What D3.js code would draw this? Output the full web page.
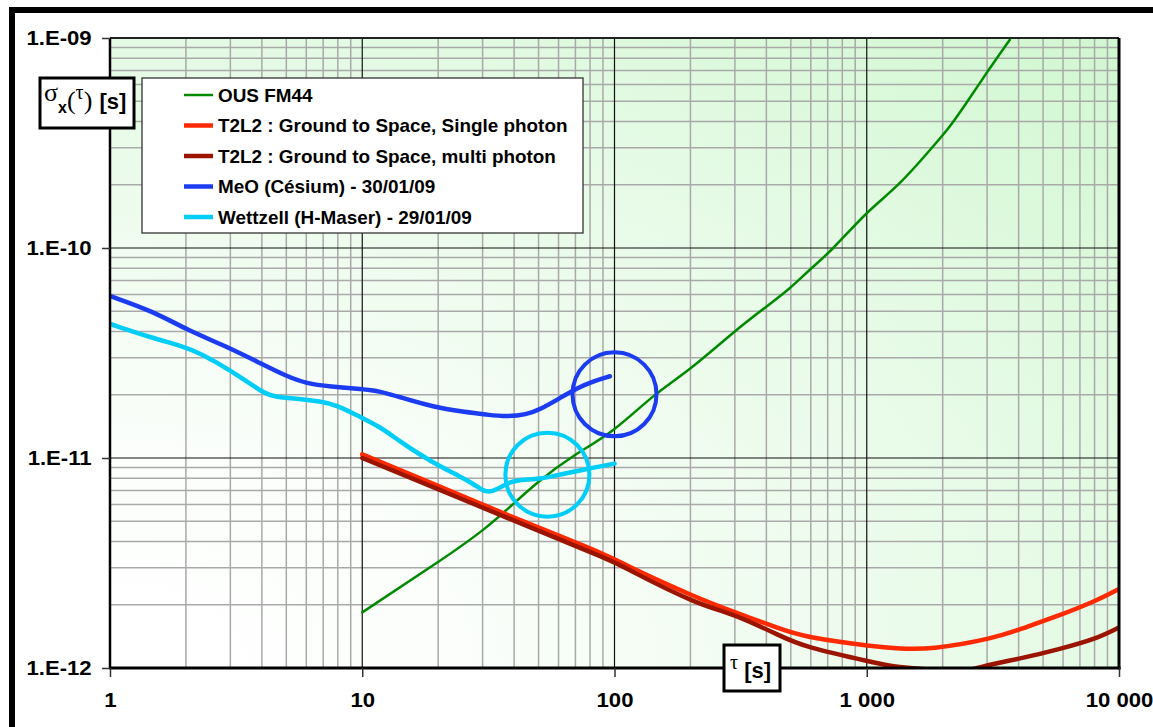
<!DOCTYPE html>
<html>
<head>
<meta charset="utf-8">
<script src="https://cdn.jsdelivr.net/npm/d3@7"></script>
<style>
  body { margin: 0; background: #fff; }
  svg { display: block; }
  text { font-family: "Liberation Sans", Arial, sans-serif; }
</style>
</head>
<body>
<svg id="chart" width="1153" height="727"></svg>
<script>
// tau in s, sigma_x(tau) in s
var xTickValues = [1, 10, 100, 1000, 10000];
var xTickLabels = ["1", "10", "100", "1 000", "10 000"];
var yTickValues = [1e-12, 1e-11, 1e-10, 1e-9];
var yTickLabels = ["1.E-12", "1.E-11", "1.E-10", "1.E-09"];

var seriesNames = [
    "OUS FM44",
    "T2L2 : Ground to Space, Single photon",
    "T2L2 : Ground to Space, multi photon",
    "MeO (Césium) - 30/01/09",
    "Wettzell (H-Maser) - 29/01/09"
];

var ousFM44 = [[10,1.84e-12],[19.7,3.16e-12],[30.2,4.56e-12],[39.7,6.05e-12],[50.6,7.8e-12],
    [68.6,1.02e-11],[98.8,1.36e-11],[142,1.96e-11],[199,2.66e-11],[295,3.94e-11],[401,5.27e-11],
    [496,6.45e-11],[595,7.88e-11],[736,1.0e-10],[998,1.46e-10],[1353,2.04e-10],[1834,3.05e-10],
    [2135,3.8e-10],[2486,4.92e-10],[2984,6.8e-10],[3691,9.8e-10]];

var t2l2Single = [[10,1.04e-11],[20.3,7.3e-12],[40,5.2e-12],[87.7,3.54e-12],[121,2.94e-12],
    [203,2.22e-12],[298,1.85e-12],[439,1.56e-12],[605,1.40e-12],[1004,1.28e-12],[1354,1.24e-12],
    [1868,1.25e-12],[3028,1.38e-12],[4180,1.55e-12],[5768,1.78e-12],[7960,2.08e-12],[10000,2.38e-12]];

var t2l2Multi = [[10,1.0e-11],[20.3,7.05e-12],[40,5.03e-12],[87.7,3.41e-12],[121,2.83e-12],
    [203,2.10e-12],[298,1.78e-12],[439,1.45e-12],[605,1.25e-12],[1004,1.08e-12],[1354,1.01e-12],
    [1868,0.98e-12],[2487,0.98e-12],[3028,1.03e-12],[4180,1.12e-12],[5768,1.23e-12],[7960,1.38e-12],
    [10000,1.56e-12]];

var meoCesium = [[1,5.91e-11],[1.485,4.99e-11],[2.015,4.08e-11],[2.99,3.34e-11],[3.93,2.83e-11],
    [5.01,2.45e-11],[6.02,2.26e-11],[7.45,2.19e-11],[10,2.13e-11],[11.75,2.08e-11],[14.1,1.95e-11],
    [19.1,1.75e-11],[25.9,1.65e-11],[31.1,1.61e-11],[37.3,1.57e-11],[44.8,1.61e-11],[50.6,1.70e-11],
    [60.8,1.93e-11],[70.8,2.15e-11],[82.3,2.32e-11],[95.9,2.45e-11]];

var wettzellMaser = [[1,4.35e-11],[1.47,3.73e-11],[1.95,3.40e-11],[2.27,3.16e-11],[2.99,2.63e-11],
    [4.05,2.04e-11],[4.44,1.96e-11],[5.66,1.91e-11],[6.78,1.86e-11],[7.93,1.79e-11],[9.79,1.57e-11],
    [11.75,1.41e-11],[14.1,1.20e-11],[16.9,1.04e-11],[20.3,9.12e-12],[24.4,8.18e-12],[27.5,7.54e-12],
    [29.7,7.06e-12],[31.6,6.85e-12],[34.1,7.06e-12],[37.9,7.65e-12],[42.2,7.88e-12],[50.6,7.94e-12],
    [60.8,8.33e-12],[75.2,8.80e-12],[100,9.40e-12]];

// circled zones [tau, sigma]
var circleCenters = [[100, 2.01e-11], [54.2, 8.33e-12]];

// styles
var colors = ["#008a00", "#ff2a00", "#9a1400", "#1c3cf2", "#00cdf8"];
var widths = [2.5, 4.5, 4.5, 4.5, 4.5];
var stretch = 1.08; // glyphs in the reference are a bit wide

var plot = {left: 110, right: 1119, top: 38, bottom: 668};

var svg = d3.select("#chart");

var x = d3.scaleLog().domain([1, 10000]).range([plot.left, plot.right]);
var y = d3.scaleLog().domain([1e-12, 1e-9]).range([plot.bottom, plot.top]);

var defs = svg.append("defs");
var grad = defs.append("radialGradient")
    .attr("id", "bg").attr("cx", 0).attr("cy", 1).attr("fx", 0).attr("fy", 1).attr("r", 1.414);
grad.append("stop").attr("offset", 0).attr("stop-color", "#ffffff");
grad.append("stop").attr("offset", 0.25).attr("stop-color", "#fbfefb");
grad.append("stop").attr("offset", 0.7).attr("stop-color", "#e4fae4");
grad.append("stop").attr("offset", 1).attr("stop-color", "#d0f7d0");

defs.append("clipPath").attr("id", "clip")
    .append("rect")
    .attr("x", plot.left).attr("y", plot.top)
    .attr("width", plot.right - plot.left).attr("height", plot.bottom - plot.top);

// outer frame
svg.append("rect")
    .attr("x", 12).attr("y", 10).attr("width", 1170).attr("height", 760)
    .attr("fill", "none").attr("stroke", "#000").attr("stroke-width", 6);

// plot background
svg.append("rect")
    .attr("x", plot.left).attr("y", plot.top)
    .attr("width", plot.right - plot.left).attr("height", plot.bottom - plot.top)
    .attr("fill", "url(#bg)");

// grid
var minorX = [], minorY = [];
for (var k = 0; k < 4; k++)
    for (var i = 2; i <= 9; i++) minorX.push(i * Math.pow(10, k));
for (var k = -12; k < -9; k++)
    for (var i = 2; i <= 9; i++) minorY.push(i * Math.pow(10, k));

var grid = svg.append("g");
grid.selectAll(".vminor").data(minorX).enter().append("line")
    .attr("x1", function(d) { return x(d); }).attr("x2", function(d) { return x(d); })
    .attr("y1", plot.top).attr("y2", plot.bottom)
    .attr("stroke", "#a9a9a9").attr("stroke-width", 1.5);
grid.selectAll(".hminor").data(minorY).enter().append("line")
    .attr("y1", function(d) { return y(d); }).attr("y2", function(d) { return y(d); })
    .attr("x1", plot.left).attr("x2", plot.right)
    .attr("stroke", "#a9a9a9").attr("stroke-width", 1.5);
grid.selectAll(".vmajor").data([10, 100, 1000]).enter().append("line")
    .attr("x1", function(d) { return x(d); }).attr("x2", function(d) { return x(d); })
    .attr("y1", plot.top).attr("y2", plot.bottom)
    .attr("stroke", "#111").attr("stroke-width", 1.2);
grid.selectAll(".hmajor").data([1e-11, 1e-10]).enter().append("line")
    .attr("y1", function(d) { return y(d); }).attr("y2", function(d) { return y(d); })
    .attr("x1", plot.left).attr("x2", plot.right)
    .attr("stroke", "#111").attr("stroke-width", 1.2);

// curves: smooth spline for the model curves, B-spline for the measured ones
var smoothLine = d3.line()
    .x(function(d) { return x(d[0]); })
    .y(function(d) { return y(d[1]); })
    .curve(d3.curveNatural);
var measLine = d3.line()
    .x(function(d) { return x(d[0]); })
    .y(function(d) { return y(d[1]); })
    .curve(d3.curveBasis);

var allSeries = [ousFM44, t2l2Single, t2l2Multi, meoCesium, wettzellMaser];
var curves = svg.append("g").attr("clip-path", "url(#clip)");
allSeries.forEach(function(s, i) {
    curves.append("path")
        .attr("d", i < 3 ? smoothLine(s) : measLine(s))
        .attr("fill", "none")
        .attr("stroke", colors[i])
        .attr("stroke-width", widths[i])
        .attr("stroke-linecap", "round")
        .attr("stroke-linejoin", "round");
});

// circles round the zones of interest
curves.selectAll(".zone").data(circleCenters).enter().append("circle")
    .attr("cx", function(d) { return x(d[0]); })
    .attr("cy", function(d) { return y(d[1]); })
    .attr("r", 42)
    .attr("fill", "none")
    .attr("stroke", function(d, i) { return colors[3 + i]; })
    .attr("stroke-width", 4);

// plot borders
svg.append("line").attr("x1", plot.left).attr("x2", plot.right).attr("y1", plot.top).attr("y2", plot.top)
    .attr("stroke", "#222").attr("stroke-width", 2);
svg.append("line").attr("x1", plot.left).attr("x2", plot.left).attr("y1", plot.top).attr("y2", plot.bottom)
    .attr("stroke", "#000").attr("stroke-width", 2.5);
svg.append("line").attr("x1", plot.right).attr("x2", plot.right).attr("y1", plot.top).attr("y2", plot.bottom + 1.5)
    .attr("stroke", "#000").attr("stroke-width", 3);
svg.append("line").attr("x1", plot.left - 1).attr("x2", plot.right + 1.5).attr("y1", plot.bottom).attr("y2", plot.bottom)
    .attr("stroke", "#000").attr("stroke-width", 3);

// axes
var xAxis = d3.axisBottom(x).tickValues(xTickValues)
    .tickFormat(function(d, i) { return xTickLabels[i]; })
    .tickSize(9).tickPadding(15);
var yAxis = d3.axisLeft(y).tickValues(yTickValues)
    .tickFormat(function(d, i) { return yTickLabels[i]; })
    .tickSize(8).tickPadding(9);

function styleAxis(g) {
    g.select(".domain").remove();
    g.selectAll(".tick line").attr("stroke", "#333").attr("stroke-width", 1.5);
    g.selectAll(".tick text")
        .attr("fill", "#000")
        .style("font-family", "'Liberation Sans', Arial, sans-serif")
        .style("font-size", "20.5px")
        .style("font-weight", "bold")
        .attr("transform", "scale(" + stretch + ",1)");
}

svg.append("g").attr("transform", "translate(0," + plot.bottom + ")").call(xAxis).call(styleAxis);
svg.append("g").attr("transform", "translate(" + plot.left + ",0)").call(yAxis).call(styleAxis);

var serif = "'Liberation Serif', 'DejaVu Serif', serif";

// y title box: sigma_x(tau) [s]
svg.append("rect").attr("x", 40).attr("y", 78).attr("width", 94).attr("height", 50)
    .attr("fill", "#fff").attr("stroke", "#000").attr("stroke-width", 3);
var yTitle = svg.append("text").attr("x", 44).attr("y", 101).attr("fill", "#000");
yTitle.append("tspan").style("font-family", serif).style("font-size", "26px").text("σ");
yTitle.append("tspan").attr("dy", 12).style("font-size", "16px").style("font-weight", "bold").text("x");
yTitle.append("tspan").attr("dy", -4).style("font-family", serif).style("font-size", "26px").text("(");
yTitle.append("tspan").attr("dy", -10).style("font-family", serif).style("font-size", "20px").text("τ");
yTitle.append("tspan").attr("dy", 10).style("font-family", serif).style("font-size", "26px").text(")");
yTitle.append("tspan").attr("dx", 1).style("font-size", "22px").style("font-weight", "bold").text(" [s]");

// x title box: tau [s]
svg.append("rect").attr("x", 724).attr("y", 645).attr("width", 56).attr("height", 46)
    .attr("fill", "#fff").attr("stroke", "#000").attr("stroke-width", 3);
var xTitle = svg.append("text").attr("x", 730).attr("y", 669).attr("fill", "#000");
xTitle.append("tspan").style("font-family", serif).style("font-size", "20px").text("τ");
xTitle.append("tspan").attr("dx", 0).attr("dy", 9).style("font-size", "22px").style("font-weight", "bold").text(" [s]");

// legend
var legend = svg.append("g");
legend.append("rect").attr("x", 142).attr("y", 78).attr("width", 441).attr("height", 155)
    .attr("fill", "#fff").attr("stroke", "#333").attr("stroke-width", 1.3);
seriesNames.forEach(function(name, i) {
    var ly = 95 + i * 30.5;
    legend.append("line")
        .attr("x1", 184).attr("x2", 213).attr("y1", ly).attr("y2", ly)
        .attr("stroke", colors[i]).attr("stroke-width", widths[i]);
    legend.append("text")
        .attr("transform", "translate(218," + (ly + 6.5) + ") scale(" + stretch + ",1)")
        .style("font-size", "17.5px")
        .style("font-weight", "bold")
        .attr("fill", "#000")
        .text(name);
});
</script>
</body>
</html>
